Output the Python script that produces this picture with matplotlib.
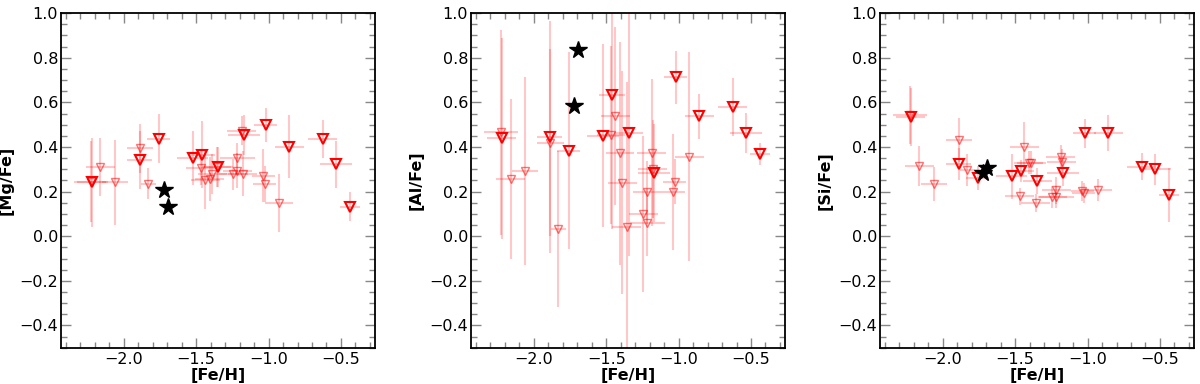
import numpy as np
import matplotlib
matplotlib.use("Agg")
import matplotlib.pyplot as plt
from matplotlib.ticker import MultipleLocator

# [Fe/H] of the sample (thick symbols / thin symbols)
feh_big = [-2.223, -1.89, -1.759, -1.525, -1.458, -1.346, -1.171, -1.02, -0.857, -0.627, -0.533, -0.439]
feh_small = [-2.227, -2.161, -2.06, -1.885, -1.83, -1.467, -1.437, -1.405, -1.389, -1.357,
             -1.245, -1.217, -1.215, -1.185, -1.18, -1.036, -1.027, -0.928]
xerr_big = [0.1, 0.085, 0.08, 0.11, 0.09, 0.1, 0.11, 0.08, 0.1, 0.1, 0.11, 0.07]
xerr_small = [0.12, 0.1, 0.09, 0.09, 0.05, 0.1, 0.1, 0.1, 0.1, 0.1, 0.1, 0.1, 0.12, 0.1, 0.1, 0.08, 0.08, 0.1]

# [Mg/Fe]
mg_big = [0.241, 0.342, 0.436, 0.351, 0.365, 0.312, 0.454, 0.499, 0.402, 0.436, 0.323, 0.132]
mg_big_err = [0.2, 0.13, 0.11, 0.12, 0.15, 0.09, 0.09, 0.075, 0.14, 0.085, 0.105, 0.065]
mg_small = [0.245, 0.309, 0.241, 0.395, 0.236, 0.308, 0.251, 0.257, 0.28, 0.31,
            0.278, 0.294, 0.35, 0.472, 0.281, 0.272, 0.233, 0.148]
mg_small_err = [0.18, 0.13, 0.19, 0.11, 0.07, 0.08, 0.13, 0.1, 0.09, 0.09,
                0.07, 0.08, 0.07, 0.065, 0.1, 0.12, 0.08, 0.13]

# [Al/Fe]
al_big = [0.439, 0.444, 0.384, 0.451, 0.634, 0.462, 0.285, 0.712, 0.537, 0.578, 0.462, 0.369]
al_big_err = [0.45, 0.52, 0.44, 0.41, 0.6, 0.55, 0.22, 0.12, 0.1, 0.13, 0.09, 0.05]
al_small = [0.465, 0.256, 0.293, 0.42, 0.034, 0.454, 0.54, 0.372, 0.24, 0.04,
            0.1, 0.196, 0.061, 0.375, 0.30, 0.196, 0.245, 0.357]
al_small_err = [0.46, 0.36, 0.42, 0.42, 0.35, 0.4, 0.4, 0.5, 0.5, 0.65,
                0.35, 0.14, 0.15, 0.33, 0.22, 0.26, 0.1, 0.47]

# [Si/Fe]
si_big = [0.534, 0.324, 0.26, 0.268, 0.293, 0.248, 0.283, 0.462, 0.462, 0.312, 0.30, 0.185]
si_big_err = [0.13, 0.07, 0.055, 0.1, 0.05, 0.06, 0.06, 0.065, 0.08, 0.06, 0.07, 0.12]
si_small = [0.544, 0.315, 0.235, 0.432, 0.297, 0.178, 0.402, 0.33, 0.33, 0.148,
            0.175, 0.205, 0.175, 0.357, 0.332, 0.203, 0.193, 0.208]
si_small_err = [0.13, 0.09, 0.075, 0.1, 0.07, 0.04, 0.11, 0.05, 0.05, 0.04,
                0.05, 0.06, 0.05, 0.05, 0.06, 0.045, 0.045, 0.05]

# the two black stars
star_feh = [-1.725, -1.695]
star_mg = [0.205, 0.131]
star_al = [0.584, 0.836]
star_si = [0.285, 0.305]

panels = [
    ("[Mg/Fe]", mg_big, mg_big_err, mg_small, mg_small_err, star_mg),
    ("[Al/Fe]", al_big, al_big_err, al_small, al_small_err, star_al),
    ("[Si/Fe]", si_big, si_big_err, si_small, si_small_err, star_si),
]

fig = plt.figure(figsize=(12, 3.84), dpi=100)
lefts = [0.0508, 0.3925, 0.7333]
err_col = (1.0, 0.0, 0.0, 0.22)

for left, (label, yb, yb_err, ys, ys_err, ystar) in zip(lefts, panels):
    ax = fig.add_axes([left, 0.0945, 0.2617, 0.8712])

    ax.errorbar(feh_small, ys, xerr=xerr_small, yerr=ys_err, fmt='none',
                ecolor=err_col, elinewidth=1.5, capsize=0, zorder=1)
    ax.errorbar(feh_big, yb, xerr=xerr_big, yerr=yb_err, fmt='none',
                ecolor=err_col, elinewidth=1.5, capsize=0, zorder=1)
    ax.plot(feh_small, ys, 'v', ms=6, mfc='none', mec=(1, 0, 0, 0.55), mew=1.0,
            ls='none', zorder=2)
    ax.plot(feh_big, yb, 'v', ms=7.5, mfc='none', mec='red', mew=1.5,
            ls='none', zorder=3)
    ax.plot(star_feh, ystar, '*', ms=13, color='black', ls='none', zorder=4)

    ax.set_xlim(-2.434, -0.265)
    ax.set_ylim(-0.5, 1.0)
    ax.xaxis.set_major_locator(MultipleLocator(0.5))
    ax.xaxis.set_minor_locator(MultipleLocator(0.1))
    ax.yaxis.set_major_locator(MultipleLocator(0.2))
    ax.yaxis.set_minor_locator(MultipleLocator(0.05))
    ax.tick_params(which='both', direction='in', top=True, right=True,
                   color='#888888', labelsize=11.5)
    ax.tick_params(which='major', length=7, width=1)
    ax.tick_params(which='minor', length=4, width=1)
    ax.tick_params(axis='x', pad=3)
    ax.tick_params(axis='y', pad=2)
    for sp in ax.spines.values():
        sp.set_linewidth(1.3)

    ax.set_xlabel("[Fe/H]", fontsize=11.5, fontweight='bold', labelpad=1)
    ax.set_ylabel(label, fontsize=11.5, fontweight='bold', labelpad=4)

fig.savefig("out.png", dpi=100)
